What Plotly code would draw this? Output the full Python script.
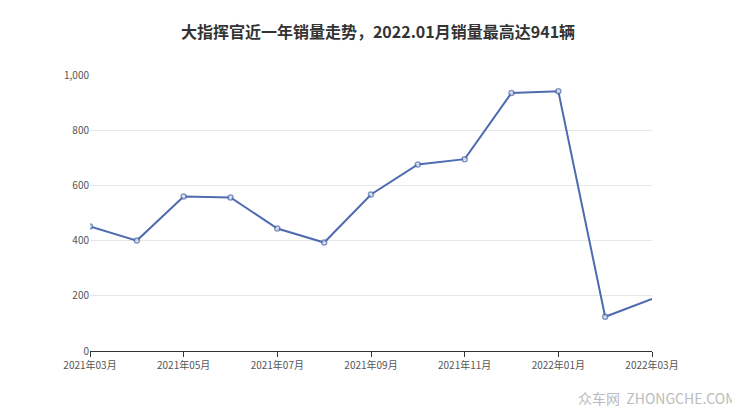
import plotly.graph_objects as go

months = ["2021年03月","2021年04月","2021年05月","2021年06月","2021年07月","2021年08月",
          "2021年09月","2021年10月","2021年11月","2021年12月","2022年01月","2022年02月","2022年03月"]
sales = [451, 400, 560, 556, 444, 393, 567, 676, 695, 935, 941, 124, 189]
tick_labels = months[::2]
y_ticks = [0, 200, 400, 600, 800, 1000]

fig = go.Figure(go.Scatter(
    x=list(range(len(months))), y=sales, mode="lines+markers",
    line=dict(color="#4f6bb0", width=2),
    marker=dict(size=[5]*(len(months)-1)+[0], color="white",
                line=dict(color="#4f6bb0", width=1.5)),
))
fig.update_layout(
    width=740, height=417, paper_bgcolor="white", plot_bgcolor="white",
    margin=dict(l=82, r=96, t=67, b=74),
    showlegend=False,
    font=dict(family="Noto Sans CJK SC", color="#666", size=11),
    title=dict(text="<b>大指挥官近一年销量走势，2022.01月销量最高达941辆</b>",
               x=0.5, y=0.955, xanchor="center",
               font=dict(size=16, color="#333")),
    xaxis=dict(range=[0, len(months)-1], tickvals=list(range(0, len(months), 2)),
               ticktext=tick_labels, showgrid=False, showline=True, linecolor="#333",
               ticks="outside", ticklen=5, tickcolor="#333", zeroline=False,
               tickfont=dict(size=10, color="#555")),
    yaxis=dict(range=[0, 1000], tickvals=y_ticks, ticktext=[f"{v:,}" for v in y_ticks],
               showgrid=True, gridcolor="#e6e6e6", zeroline=False, showline=False,
               tickfont=dict(size=10, color="#555")),
    annotations=[dict(text="众车网  ZHONGCHE.COM", xref="paper", yref="paper",
                      x=1.155, y=-0.215, xanchor="right", yanchor="bottom", showarrow=False,
                      font=dict(size=14, color="#bbb"))],
)
fig.write_html("out.html")
